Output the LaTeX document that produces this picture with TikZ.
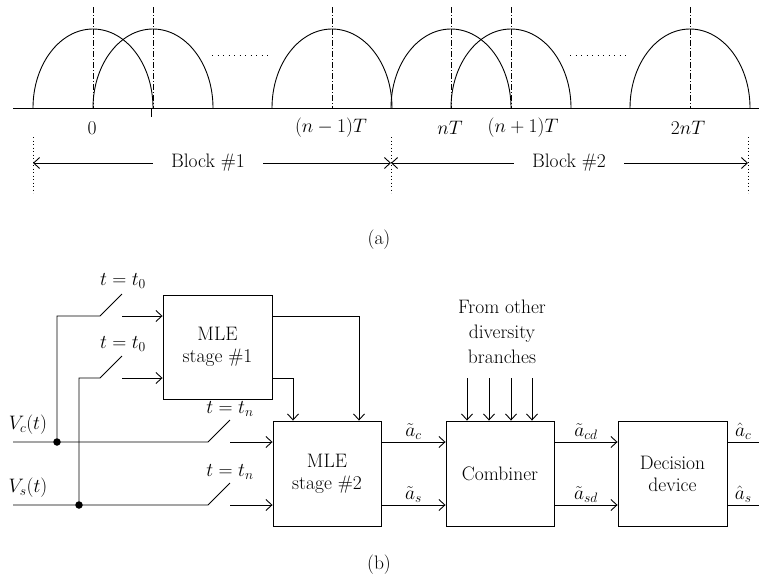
\documentclass[tikz,border=0pt]{standalone}
\usepackage{fix-cm}
\usepackage{fontspec}
\usetikzlibrary{arrows.meta}
\tikzset{
  every picture/.style={line width=0.9pt},
  lbl/.style={font=\fontsize{19.5}{22}\selectfont, inner sep=1pt},
  blockbox/.style={draw, line width=0.9pt, font=\fontsize{19.5}{22}\selectfont, align=center, inner sep=0pt},
  arr/.style={-{Straight Barb[length=6pt,width=11pt,line width=0.9pt]}},
  dashdot/.style={dash pattern=on 6pt off 2pt on 1pt off 2pt, line width=0.8pt},
  dotline/.style={dash pattern=on 0.9pt off 2.6pt, line width=0.9pt},
  hdots/.style={dash pattern=on 1pt off 4.5pt, line width=0.9pt},
  junc/.style={circle, fill, inner sep=0pt, minimum size=7.5pt}
}
\begin{document}
\begin{tikzpicture}[x=1pt,y=-1pt]
\useasboundingbox (0,0) rectangle (759,579);
% ---------- (a) ----------
\coordinate (axL) at (13,108);
\coordinate (axR) at (759,108);
\draw (axL) -- (axR);
\foreach \c [count=\i] in {93,153,332,451,511,690}{
  \draw (\c-60,108) arc[start angle=180, end angle=0, x radius=60pt, y radius=79pt];
  \coordinate (dd\i) at (\c,7);
  \draw[dashdot] (dd\i) -- (dd\i |- axL);
}
\coordinate (tk) at (151,108);
\draw (tk) -- ++(0,9);
\coordinate (h1a) at (212,55); \coordinate (h1b) at (268,55);
\draw[hdots] (h1a) -- (h1b);
\coordinate (h2a) at (570,55); \coordinate (h2b) at (626,55);
\draw[hdots] (h2a) -- (h2b);
\node[lbl] (l0) at (92,128) {$0$};
\node[lbl] (l1) at (331,128) {$(n-1)T$};
\node[lbl] (l2) at (450,128) {$nT$};
\node[lbl] (l3) at (523,128) {$(n+1)T$};
\node[lbl] (l4) at (688,128) {$2nT$};
% block arrows
\foreach \x [count=\i] in {33,391,748}{
  \coordinate (vt\i) at (\x,137);
  \coordinate (vb\i) at (\x,193);
  \draw[dotline] (vt\i) -- (vb\i);
}
\node[lbl, inner xsep=18pt] (blk1) at (208,163) {Block \#1};
\node[lbl, inner xsep=18pt] (blk2) at (569,163) {Block \#2};
\draw[arr] (blk1.west) -- (vt1 |- blk1.west);
\draw[arr] (blk1.east) -- (vt2 |- blk1.east);
\draw[arr] (blk2.west) -- (vt2 |- blk2.west);
\draw[arr] (blk2.east) -- (vt3 |- blk2.east);
\node[lbl] (capa) at (379,240) {(a)};
% ---------- (b) ----------
\node[blockbox, minimum width=109pt, minimum height=104pt] (b1) at (217.5,347) {MLE\\stage \#1};
\node[blockbox, minimum width=108pt, minimum height=105pt] (b2) at (327,473.5) {MLE\\stage \#2};
\node[blockbox, minimum width=108pt, minimum height=105pt] (cb) at (500,473.5) {Combiner};
\node[blockbox, minimum width=109pt, minimum height=105pt] (dd) at (672.5,473.5) {Decision\\device};
% inputs
\coordinate (vcin) at (13,442);
\coordinate (vsin) at (13,505);
\node[junc] (jc) at (57,442) {};
\node[junc] (js) at (79,505) {};
\node[lbl] (vcl) at (28,425) {$V_c(t)$};
\node[lbl] (vsl) at (28,488) {$V_s(t)$};
% switches
\coordinate (s1a) at (100,316); \coordinate (s1b) at (122,294); \coordinate (s1c) at (122,316);
\coordinate (s2a) at (100,378); \coordinate (s2b) at (122,356); \coordinate (s2c) at (122,378);
\coordinate (s3a) at (208,442); \coordinate (s3b) at (230,420); \coordinate (s3c) at (230,442);
\coordinate (s4a) at (208,505); \coordinate (s4b) at (230,483); \coordinate (s4c) at (230,505);
\node[lbl] (t1) at (123,281) {$t = t_0$};
\node[lbl] (t2) at (123,344) {$t = t_0$};
\node[lbl] (t3) at (230,409) {$t = t_n$};
\node[lbl] (t4) at (230,472) {$t = t_n$};
\draw (vcin) -- (s3a) -- (s3b);
\draw[arr] (s3c) -- (s3c -| b2.west);
\draw (vsin) -- (s4a) -- (s4b);
\draw[arr] (s4c) -- (s4c -| b2.west);
\draw (jc.center) |- (s1a) -- (s1b);
\draw[arr] (s1c) -- (s1c -| b1.west);
\draw (js.center) |- (s2a) -- (s2b);
\draw[arr] (s2c) -- (s2c -| b1.west);
% stage 1 to stage 2
\draw[arr] (b1.east |- s1c) -| ([xshift=32pt]b2.north);
\draw[arr] (b1.east |- s2c) -| ([xshift=-34pt]b2.north);
% stage 2 to combiner
\draw[arr] (b2.east |- s3c) -- node[lbl, above=1pt] {$\tilde{a}_c$} (cb.west |- s3c);
\draw[arr] (b2.east |- s4c) -- node[lbl, above=1pt] {$\tilde{a}_s$} (cb.west |- s4c);
% combiner to decision
\draw[arr] (cb.east |- s3c) -- node[lbl, above=1pt] {$\tilde{a}_{cd}$} (dd.west |- s3c);
\draw[arr] (cb.east |- s4c) -- node[lbl, above=1pt] {$\tilde{a}_{sd}$} (dd.west |- s4c);
% outputs
\coordinate (oc) at (759,442);
\coordinate (os) at (759,505);
\draw (dd.east |- oc) -- node[lbl, above=1pt] {$\hat{a}_c$} (oc);
\draw (dd.east |- os) -- node[lbl, above=1pt] {$\hat{a}_s$} (os);
% other branches
\node[lbl, align=center, font=\fontsize{19.5}{25}\selectfont] (fo) at (502,332) {From other\\diversity\\branches};
\foreach \dx [count=\i] in {-33,-11,11,32}{
  \coordinate (f\i) at ([xshift=\dx pt]cb.north |- 0,378);
  \draw[arr] (f\i) -- (f\i |- cb.north);
}
\node[lbl] (capb) at (379,565) {(b)};
\end{tikzpicture}
\end{document}
